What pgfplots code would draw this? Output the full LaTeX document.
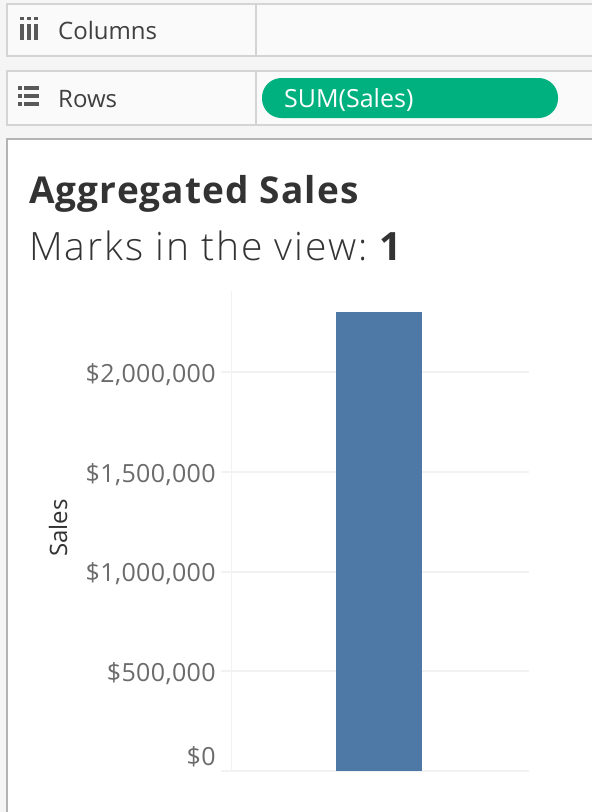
\documentclass[border=0pt]{standalone}
\usepackage{pgfplots}
\pgfplotsset{compat=1.18}
\usepackage{fontspec}
\setmainfont{Open Sans}
\newfontface\titlebold[LetterSpace=3]{Open Sans Bold}
\newfontface\titlereg[LetterSpace=5]{Open Sans Light}
\newfontface\ticklab[LetterSpace=1.5]{Open Sans}
\definecolor{pagebg}{HTML}{F5F5F5}
\definecolor{shelfbg}{HTML}{FAFAFA}
\definecolor{shelfline}{HTML}{D4D4D4}
\definecolor{panelline}{HTML}{B4B4B4}
\definecolor{pill}{HTML}{00B180}
\definecolor{barblue}{HTML}{4E79A7}
\definecolor{gridc}{HTML}{F2F2F2}
\definecolor{ticktext}{HTML}{6B6B6B}
\definecolor{darktext}{HTML}{333333}
\begin{document}
\begin{tikzpicture}[x=1pt,y=-1pt]
% page and shelves, coordinates are image pixels
\useasboundingbox (0,0) rectangle (592,812);
\clip (0,0) rectangle (592,812);
\fill[pagebg] (0,0) rectangle (592,812);
\draw[shelfline,line width=2pt,fill=shelfbg] (7,4) rectangle (600,56);
\draw[shelfline,line width=2pt] (256,4) -- (256,56);
\draw[shelfline,line width=2pt,fill=shelfbg] (7,71) rectangle (600,125);
\draw[shelfline,line width=2pt] (256,71) -- (256,125);
\draw[panelline,line width=2pt,fill=white] (7,139) rectangle (600,820);
% shelf icons
\foreach \x in {21,28,35}{
  \fill[black!65] (\x-1,17) rectangle (\x+2.5,20);
  \fill[black!65] (\x-1,24) rectangle (\x+2.5,40);
}
\foreach \y in {86,94,102}{
  \fill[black!65] (18,\y) rectangle (22,\y+3.5);
  \fill[black!65] (24,\y) rectangle (39,\y+3.5);
}
\node[anchor=base west,inner sep=0,font=\fontsize{24}{24}\selectfont,text=black!75] at (58,39) {Columns};
\node[anchor=base west,inner sep=0,font=\fontsize{24}{24}\selectfont,text=black!75] at (58,107) {Rows};
\fill[pill,rounded corners=19.5pt] (262,78) rectangle (558,118);
\node[anchor=base west,inner sep=0,font=\fontsize{25}{25}\selectfont,text=white] at (284,107) {SUM(Sales)};
% title
\node[anchor=base west,inner sep=0,font=\fontsize{37}{37}\titlebold,text=darktext] at (29,203) {Aggregated Sales};
\node[anchor=base west,inner sep=0,font=\fontsize{39}{39}\titlereg,text=darktext] at (29,260) {Marks in the view:\hspace{-4pt} {\titlebold 1}};
\begin{axis}[
  at={(231pt,-771pt)}, anchor=south west,
  scale only axis, width=298pt, height=480pt,
  xmin=0, xmax=298, ymin=0, ymax=2406000,
  axis lines=none,
  clip=false,
  ybar, bar width=86pt,
  xtick=\empty,
  ]
  % gridlines and left rule come first, bar sits on top
  \addplot[sharp plot,gridc,line width=2pt,forget plot] coordinates {(-10,2000000) (298,2000000)};
  \addplot[sharp plot,gridc,line width=2pt,forget plot] coordinates {(-10,1500000) (298,1500000)};
  \addplot[sharp plot,gridc,line width=2pt,forget plot] coordinates {(-10,1000000) (298,1000000)};
  \addplot[sharp plot,gridc,line width=2pt,forget plot] coordinates {(-10,500000) (298,500000)};
  \addplot[sharp plot,gridc,line width=2pt,forget plot] coordinates {(-10,-2000) (298,-2000)};
  \addplot[sharp plot,gridc,line width=1pt,forget plot] coordinates {(0,0) (0,2406000)};
  \addplot[fill=barblue,draw=none] coordinates {(148,2300000)};
\end{axis}
\begin{axis}[
  at={(231pt,-771pt)}, anchor=south west,
  scale only axis, width=298pt, height=480pt,
  xmin=0, xmax=298, ymin=0, ymax=2406000,
  axis x line=none, axis y line=left,
  y axis line style={draw=none},
  scaled y ticks=false,
  ytick={500000,1000000,1500000,2000000},
  yticklabels={{\$500,000},{\$1,000,000},{\$1,500,000},{\$2,000,000}},
  ytick style={draw=none},
  extra y ticks={0},
  extra y tick labels={\$0},
  extra y tick style={yticklabel style={yshift=17pt}},
  yticklabel style={anchor=east,inner sep=0,xshift=-13pt,yshift=-2.5pt,text=ticktext,font=\fontsize{25}{25}\ticklab},
  ylabel={Sales},
  ylabel style={font=\fontsize{24}{24}\selectfont,text=darktext,at={(axis description cs:-0.58,0.506)},anchor=center},
  ]
\end{axis}
\end{tikzpicture}
\end{document}
